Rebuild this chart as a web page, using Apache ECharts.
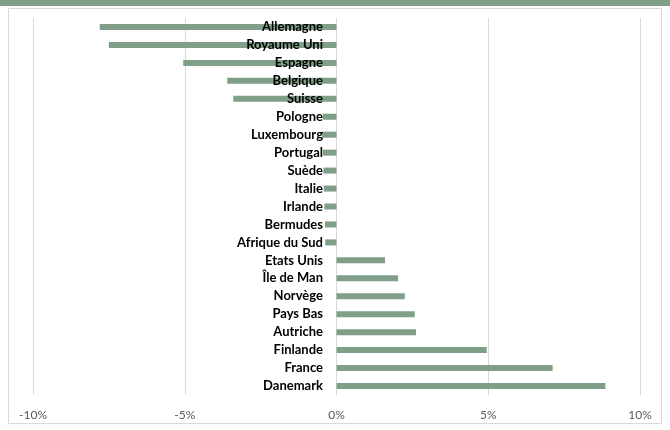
<!DOCTYPE html>
<html>
<head>
<meta charset="utf-8">
<script src="https://cdn.jsdelivr.net/npm/echarts@6/dist/echarts.min.js"></script>
<style>html,body{margin:0;padding:0;background:#fff}#c{width:670px;height:430px}</style>
</head>
<body>
<div id="c"></div>
<script>
const categories = ["Allemagne","Royaume Uni","Espagne","Belgique","Suisse","Pologne","Luxembourg","Portugal","Suède","Italie","Irlande","Bermudes","Afrique du Sud","Etats Unis","Île de Man","Norvège","Pays Bas","Autriche","Finlande","France","Danemark"];
const values = [-7.8,-7.5,-5.05,-3.6,-3.4,-0.45,-0.47,-0.45,-0.43,-0.42,-0.4,-0.38,-0.37,1.6,2.03,2.25,2.58,2.62,4.95,7.12,8.86];
const xTicks = [-10,-5,0,5,10];

const chart = echarts.init(document.getElementById('c'), null, {renderer:'canvas'});
chart.setOption({
  animation:false,
  graphic:[
    {type:'rect', shape:{x:0,y:0,width:670,height:6}, style:{fill:'#7F9F88'}, z:-1},
    {type:'rect', shape:{x:8.5,y:8.5,width:653,height:415}, style:{fill:'none',stroke:'#D9D9D9',lineWidth:1}, z:-1}
  ],
  grid:{left:33, right:30, top:18, bottom:35, containLabel:false, outerBoundsMode:'none'},
  xAxis:{
    type:'value', min:xTicks[0], max:xTicks[xTicks.length-1], interval:5,
    axisLine:{show:false, onZero:false}, axisTick:{show:false},
    splitLine:{show:true, lineStyle:{color:'#D9D9D9', width:1}},
    axisLabel:{formatter:v=>v+'%', color:'#595959', fontSize:12, fontFamily:'Lato', margin:14}
  },
  yAxis:{
    type:'category', data:categories, inverse:true, z:10,
    axisLine:{show:false, onZero:false}, axisTick:{show:false},
    axisLabel:{color:'#000', fontWeight:'bold', fontSize:13, fontFamily:'Lato', margin:-290, hideOverlap:false}
  },
  series:[{type:'bar', data:values, barWidth:6, itemStyle:{color:'#7F9F88'}}]
});
</script>
</body>
</html>
